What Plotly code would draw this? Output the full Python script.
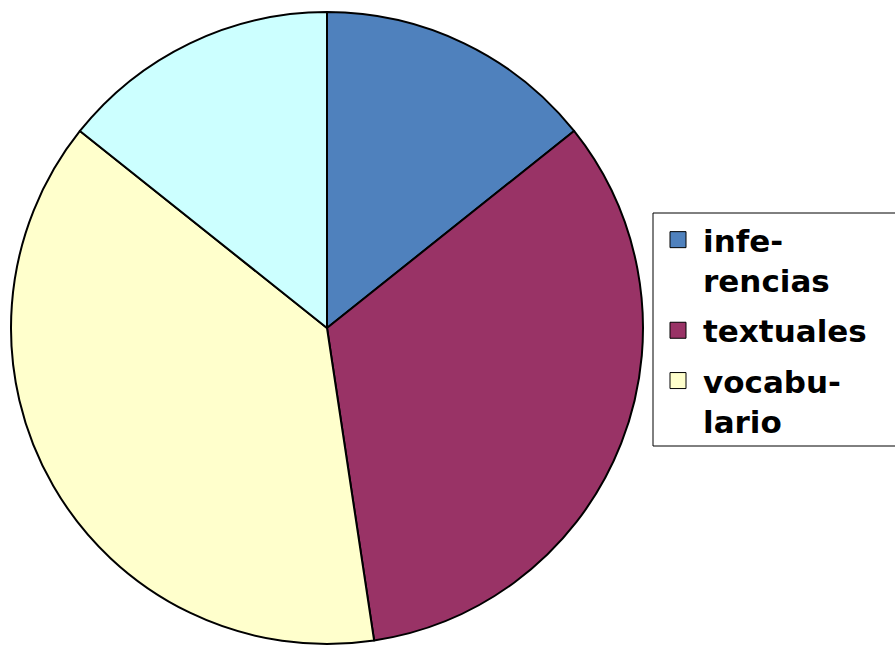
import plotly.graph_objects as go

labels = ["inferencias", "textuales", "vocabulario", "otros"]
legend_labels = ["<b>infe-</b><br><b>rencias</b>", "<b>textuales</b>", "<b>vocabu-</b><br><b>lario</b>"]
values = [3, 7, 8, 3]
colors = ["#4f81bd", "#993366", "#ffffcc", "#ccffff"]

W, H = 895, 648
cx, cy, r = 327, 328, 316

fig = go.Figure()
fig.add_trace(go.Pie(
    labels=labels, values=values, sort=False, direction="clockwise", rotation=0,
    marker=dict(colors=colors, line=dict(color="black", width=2)),
    textinfo="none", hoverinfo="label+value+percent", showlegend=False,
    domain=dict(x=[(cx - r) / W, (cx + r) / W], y=[(H - cy - r) / H, (H - cy + r) / H]),
))
for i, (lab, col) in enumerate(zip(legend_labels, colors[:3])):
    fig.add_trace(go.Scatter(
        x=[None], y=[None], mode="markers", name=lab, legendgroup=f"g{i}",
        marker=dict(symbol="square", size=20, color=col, line=dict(color="black", width=1)),
    ))

# legend frame (extends past the right edge, as in the original)
fig.add_shape(
    type="rect", xref="paper", yref="paper", layer="above",
    x0=653 / W, x1=1.1, y0=(H - 446) / H, y1=(H - 213) / H,
    line=dict(color="black", width=1), fillcolor="rgba(0,0,0,0)",
)

fig.update_layout(
    width=W, height=H, margin=dict(l=0, r=0, t=0, b=0),
    paper_bgcolor="white", plot_bgcolor="white",
    xaxis=dict(visible=False), yaxis=dict(visible=False),
    legend=dict(
        x=653 / W, xanchor="left", y=(H - 213) / H, yanchor="top",
        borderwidth=0, bgcolor="rgba(0,0,0,0)",
        font=dict(family="DejaVu Sans", size=31, color="black"),
        tracegroupgap=7, itemwidth=40, valign="top",
    ),
)
fig.write_html(
    "out.html",
    config={"displayModeBar": False},
    post_script="document.body.style.margin='0';document.body.style.overflow='hidden';",
)
